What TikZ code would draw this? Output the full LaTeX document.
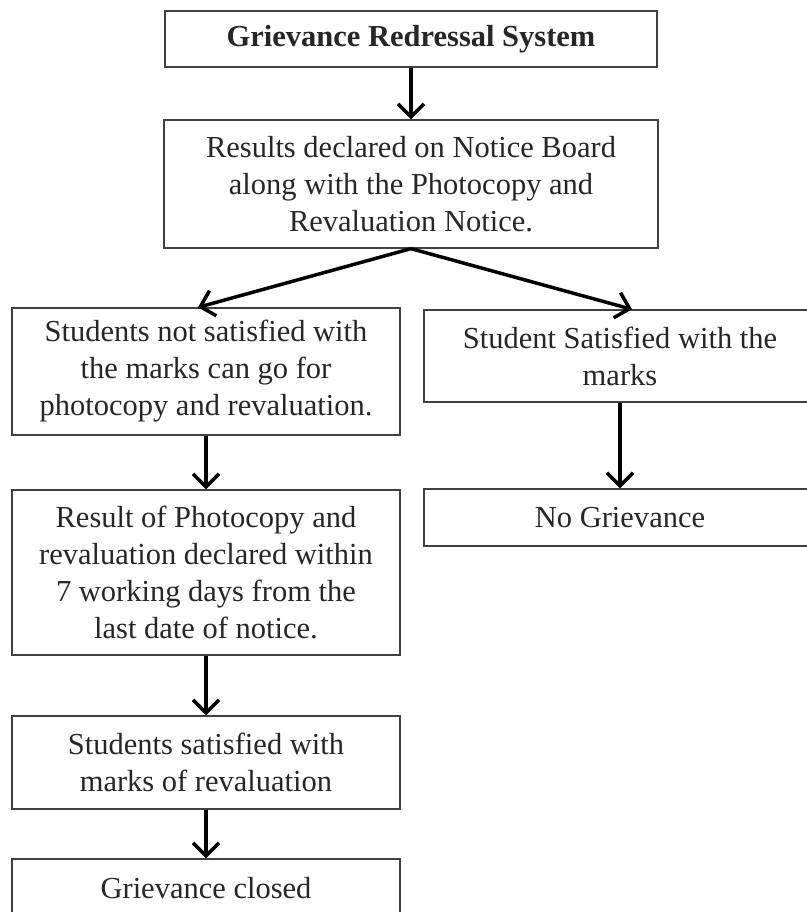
\documentclass[tikz,border=0pt]{standalone}
\usepackage{fontspec}
\setmainfont{Liberation Serif}
\usetikzlibrary{arrows.meta}

\begin{document}
\begin{tikzpicture}[x=1pt,y=-1pt,
    box/.style={draw=black!75, line width=1.3pt, align=center, inner sep=0pt,
        font=\fontsize{30.5}{37}\selectfont, text=black!85},
    flow/.style={-{Straight Barb[length=13pt,width=26pt]}, line width=3.5pt}]
    \useasboundingbox (0,0) rectangle (806,912);

    \node[box, minimum width=492, minimum height=56] (title) at (411,39) {\textbf{Grievance Redressal System}};
    \node[box, minimum width=494, minimum height=128] (notice) at (411,184)
        {Results declared on Notice Board\\along with the Photocopy and\\Revaluation Notice.};

    \node[box, minimum width=388, minimum height=127] (notok) at (206,371.5)
        {Students not satisfied with\\the marks can go for\\photocopy and revaluation.};
    \node[box, minimum width=392, minimum height=92] (ok) at (620,356)
        {Student Satisfied with the\\marks};

    \node[box, minimum width=388, minimum height=165] (result) at (206,572.5)
        {Result of Photocopy and\\revaluation declared within\\7 working days from the\\last date of notice.};
    \node[box, minimum width=392, minimum height=57] (none) at (620,517.5) {No Grievance};

    \node[box, minimum width=388, minimum height=93] (satisfied) at (206,762.5)
        {Students satisfied with\\marks of revaluation};
    \node[box, minimum width=388, minimum height=58] (closed) at (206,888) {Grievance closed};

    \draw[flow] (title) -- (notice);
    \draw[flow] (notice.south) -- ([xshift=-8pt]notok.north);
    \draw[flow] (notice.south) -- ([xshift=12pt]ok.north);
    \draw[flow] (notok) -- (result);
    \draw[flow] (ok) -- (none);
    \draw[flow] (result) -- (satisfied);
    \draw[flow] (satisfied) -- (closed);
\end{tikzpicture}
\end{document}
